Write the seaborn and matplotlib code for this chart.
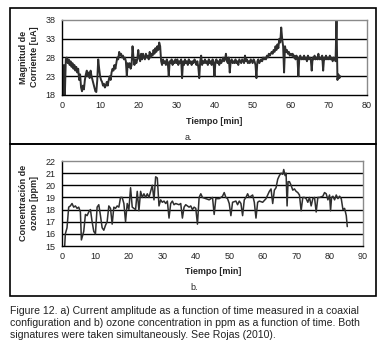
import numpy as np
import pandas as pd
import seaborn as sns
import matplotlib.pyplot as plt
from matplotlib.patches import Rectangle

# panel a: current amplitude (uA), sampled every 0.25 min (one row = 5 min)
current_ua = [
    18, 18, 26, 18, 27.5, 28, 26.5, 27.5, 26, 27, 25.5, 26.5, 25, 26, 24.5, 25.5, 24, 25, 22, 23.5,
    20, 19, 20.5, 19.5, 22, 23.5, 24.5, 23, 24, 22.5, 24.5, 23, 22, 21, 20, 19, 18.8, 22, 27.5, 25,
    23, 22, 21.5, 20.5, 21, 20, 20.5, 21.5, 20.5, 22, 23, 22, 24, 25, 24.5, 26, 25, 26.5, 28, 27.5,
    29.5, 28.5, 29, 28, 28.5, 27.5, 28, 27, 23, 26.5, 25.5, 26.5, 25, 26, 31, 28, 26, 27.5, 26.5, 27.5,
    30, 28, 27, 29, 27.5, 29, 28, 27.5, 29, 28, 28.5, 27.5, 29.5, 28, 29, 28.5, 30, 29, 30.5, 29.5,
    31, 30, 32, 31, 27, 26, 27.5, 26.5, 27, 26, 27.5, 26.5, 23, 27, 26.5, 27.5, 26, 27, 26.5, 27.5,
    26.5, 27.5, 26, 27, 26.5, 27.5, 22.5, 27, 26, 27.5, 26.5, 27, 26, 27.5, 26.5, 27, 26, 27, 26.5, 27.5,
    27, 26, 27, 25.5, 22.5, 27, 28.5, 26, 27, 26.5, 27.5, 26.5, 27, 26, 27.5, 26.5, 27, 26, 27.5, 26.5,
    23, 27, 27.5, 26.5, 27, 26, 27.5, 26.5, 27, 28, 27, 27.5, 29, 27, 26.5, 28, 24, 27, 27.5, 26.5,
    27, 26.5, 27.5, 26.5, 27, 26, 27.5, 27, 26.5, 27.5, 27, 26.5, 28.5, 27, 27.5, 26.5, 27, 26.5, 27.5, 27,
    26.5, 27.5, 27, 26, 22.5, 27, 27.5, 26.5, 27, 27.5, 27, 28, 27.5, 28, 27.5, 28.5, 28, 29, 28.5, 29,
    29.5, 29, 30, 29.5, 31, 30, 31.5, 30.5, 33, 32, 36, 33, 31, 24, 31, 29.5, 30, 29, 29.5, 28.5,
    29, 28.5, 29, 28, 28.5, 27.5, 28.5, 28, 23, 28, 28.5, 27.5, 28, 27.5, 28.5, 27.5, 28, 27, 28.5, 27.5,
    28, 27.5, 24.5, 28, 27.5, 28.5, 27.5, 28, 27.5, 29, 27.5, 28, 27.5, 28.5, 24.5, 28, 27.5, 28.5, 27.5, 28,
    27.5, 28.5, 27.5, 28, 27, 28, 27.5, 27, 38, 22, 23.5, 22.5, 23,
]
time_a = [i * 0.25 for i in range(len(current_ua))]

# panel b: ozone concentration (ppm)
time_b = [
    0.8, 1, 1.5, 2, 2.5, 3, 3.5, 4, 4.5, 5, 5.5, 5.8, 6.5, 7, 7.5, 8, 8.5, 9, 9.5, 10,
    10.5, 11, 11.5, 12, 12.5, 13, 13.5, 14, 14.5, 15, 15.5, 16, 16.5, 17, 17.5, 18, 18.5, 19, 19.5, 20,
    20.5, 21, 21.5, 22, 22.5, 23, 23.5, 24, 24.5, 25, 25.5, 26, 26.5, 27, 27.5, 28, 28.5, 29, 29.5, 30,
    30.5, 31, 31.5, 32, 32.5, 33, 33.5, 34, 35, 35.5, 36, 36.5, 37, 38, 38.5, 39, 39.5, 40, 40.5, 41,
    41.5, 42, 43, 44, 45, 45.5, 46, 47, 48, 48.5, 49, 49.5, 50, 50.5, 51, 52, 52.5, 53, 53.5, 54,
    54.5, 55, 55.5, 56, 57, 57.5, 58, 58.5, 59, 60, 61, 62, 62.5, 63, 63.5, 64, 64.5, 65, 65.5, 66,
    66.3, 66.7, 67, 67.3, 67.6, 68, 68.5, 69, 69.5, 70, 70.5, 71, 71.5, 72, 72.5, 73, 73.5, 74, 74.5, 75,
    75.5, 76, 76.5, 77, 78, 78.5, 79, 79.5, 80, 80.3, 80.6, 81, 81.5, 82, 82.5, 83, 83.5, 84, 84.5, 85,
    85.3,
]
ozone_ppm = [
    15, 16, 16.5, 18.2, 18.3, 18.5, 18.2, 18.3, 18.1, 18.2, 17.8, 15.5, 16.2, 17.6, 17.5, 17.8, 18, 17, 16.2, 16,
    18.2, 18.4, 17.5, 16.5, 16.3, 16.7, 17, 18.3, 18.1, 16.8, 18.2, 18.1, 18.3, 18.2, 19, 19, 18.5, 17, 18.5, 18,
    19.8, 18.2, 18.1, 18, 19.5, 17.9, 19.5, 19, 19.3, 19, 19.3, 19, 19.5, 20, 18.8, 20.7, 20.6, 18.3, 18.8, 18.6,
    18.7, 18.5, 18.7, 17.3, 18.5, 18.7, 18.4, 18.5, 18.4, 18.5, 17.3, 18.2, 18.4, 18.2, 18.3, 18, 18.2, 18.1, 16.8, 19,
    19.3, 19, 18.9, 18.8, 19, 17.6, 18.9, 18.9, 19.1, 19.4, 19, 18.9, 18.5, 17.5, 18.6, 18.7, 18.4, 18.7, 18.5, 17.5,
    18.8, 19, 19.3, 19, 19.2, 18.6, 17.3, 18.6, 18.7, 18.6, 18.9, 19.5, 19.7, 18.5, 19.6, 19.8, 20.5, 20.8, 21, 20.9,
    21.3, 20.8, 21, 18.3, 20.3, 20.3, 20, 19.6, 19.7, 19.5, 19.4, 19.2, 17.9, 19, 19, 18.9, 18.6, 19, 18.3, 18.9,
    19, 17.8, 19, 19, 19.1, 19.4, 19.3, 18.8, 19.2, 17.9, 19, 19.1, 18.8, 19.2, 18.9, 19.1, 18.9, 18, 18.1, 17.5,
    16.6,
]

xticks_a = [0, 10, 20, 30, 40, 50, 60, 70, 80]
yticks_a = [18, 23, 28, 33, 38]
xticks_b = [0, 10, 20, 30, 40, 50, 60, 70, 80, 90]
yticks_b = [15, 16, 17, 18, 19, 20, 21, 22]

caption = ("Figure 12. a) Current amplitude as a function of time measured in a coaxial\n"
           "configuration and b) ozone concentration in ppm as a function of time. Both\n"
           "signatures were taken simultaneously. See Rojas (2010).")

sns.set_style("white")
plt.rcParams['font.family'] = ['Liberation Sans', 'DejaVu Sans']

W, H = 380, 360
fig = plt.figure(figsize=(3.8, 3.6), dpi=100)


def px_axes(left, top, right, bottom):
    return fig.add_axes([left / W, 1 - bottom / H, (right - left) / W, (bottom - top) / H])


def style_axes(ax, xticks, yticks):
    ax.set_xlim(xticks[0], xticks[-1])
    ax.set_ylim(yticks[0], yticks[-1])
    ax.set_xticks(xticks)
    ax.set_yticks(yticks)
    for y in yticks[1:-1]:
        ax.axhline(y, color="black", lw=1.0, zorder=0)
    for side in ["top", "right"]:
        ax.spines[side].set_color("#8a8a8a")
        ax.spines[side].set_linewidth(1.0)
    for side in ["left", "bottom"]:
        ax.spines[side].set_color("black")
        ax.spines[side].set_linewidth(1.0)
    ax.tick_params(axis="both", direction="out", length=3, width=0.8,
                   labelsize=6.5, colors="black", pad=1.5)
    ax.tick_params(axis="both", labelcolor="#222222")
    ax.set_xlabel("")
    ax.set_ylabel("")


# panel a
ax1 = px_axes(62, 20, 367, 95)
sns.lineplot(x=time_a, y=current_ua, ax=ax1, color="#2e2e2e", lw=1.4)
style_axes(ax1, xticks_a, yticks_a)

# panel b
ax2 = px_axes(62, 161, 363, 246)
sns.lineplot(x=time_b, y=ozone_ppm, ax=ax2, color="#2e2e2e", lw=1.1)
style_axes(ax2, xticks_b, yticks_b)

# labels
fig.text(29 / W, 1 - 57 / H, "Magnitud de\nCorriente [uA]", rotation=90,
         ha="center", va="center", fontsize=6.5, fontweight="bold", linespacing=1.25)
fig.text(29 / W, 1 - 203 / H, "Concentración de\nozono [ppm]", rotation=90,
         ha="center", va="center", fontsize=6.5, fontweight="bold", linespacing=1.25)
fig.text(214 / W, 1 - 121 / H, "Tiempo [min]", ha="center", va="center",
         fontsize=6.5, fontweight="bold")
fig.text(213 / W, 1 - 271 / H, "Tiempo [min]", ha="center", va="center",
         fontsize=6.5, fontweight="bold")
fig.text(188 / W, 1 - 138 / H, "a.", ha="center", va="center", fontsize=6.5)
fig.text(194 / W, 1 - 288 / H, "b.", ha="center", va="center", fontsize=6.5)

# panel frames
for top, bottom in [(8, 144), (144, 296)]:
    fig.add_artist(Rectangle((10 / W, 1 - bottom / H), 366 / W, (bottom - top) / H,
                             transform=fig.transFigure, fill=False,
                             edgecolor="black", lw=1.2))

fig.text(10 / W, 1 - 306 / H, caption, ha="left", va="top", fontsize=7.6,
         color="#222222", linespacing=1.25)

plt.savefig("out.png", dpi=100)
